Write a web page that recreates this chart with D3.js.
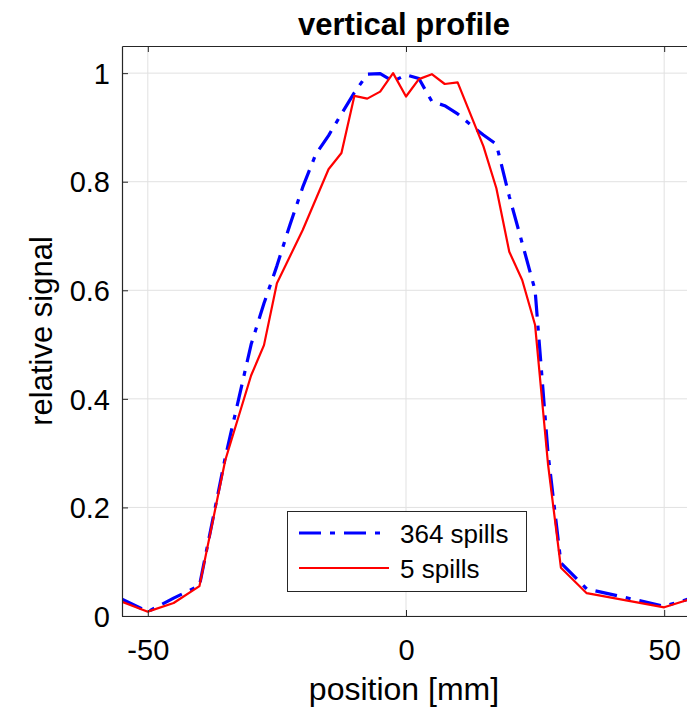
<!DOCTYPE html>
<html>
<head>
<meta charset="utf-8">
<script src="https://cdn.jsdelivr.net/npm/d3@7/dist/d3.min.js"></script>
<style>
  html, body { margin: 0; padding: 0; background: #fff; }
  svg { display: block; }
  text { font-family: "Liberation Sans", Arial, Helvetica, sans-serif; fill: #000; }
</style>
</head>
<body>
<svg id="chart" width="687" height="710"></svg>
<script>
// ---- data ----
const xSpills364 = [-55, -50, -45, -40, -35, -30, -27.5, -25, -22.5, -20, -17.5, -15, -12.5, -10, -7.5, -5, -2.5, 0, 2.5, 5, 7.5, 10, 12.5, 15, 17.5, 20, 22.5, 25, 27.5, 30, 35, 50, 55];
const ySpills364 = [0.031, 0.008, 0.033, 0.056, 0.292, 0.50, 0.576, 0.645, 0.72, 0.79, 0.85, 0.885, 0.925, 0.964, 0.998, 0.999, 0.985, 0.997, 0.99, 0.948, 0.94, 0.925, 0.905, 0.886, 0.869, 0.773, 0.687, 0.60, 0.30, 0.098, 0.05, 0.018, 0.032];

const xSpills5 = [-55, -50, -45, -40, -35, -30, -27.5, -25, -20, -15, -12.5, -10, -7.5, -5, -2.5, 0, 2.5, 5, 7.5, 10, 15, 17.5, 20, 22.5, 25, 27.5, 30, 35, 50, 55];
const ySpills5 = [0.026, 0.008, 0.024, 0.055, 0.287, 0.443, 0.499, 0.613, 0.711, 0.823, 0.853, 0.958, 0.953, 0.966, 1.0, 0.957, 0.989, 0.998, 0.980, 0.983, 0.865, 0.788, 0.671, 0.619, 0.536, 0.28, 0.089, 0.042, 0.016, 0.031];

const xTicks = [-50, 0, 50];
const xTickLabels = ["-50", "0", "50"];
const yTicks = [0, 0.2, 0.4, 0.6, 0.8, 1];
const yTickLabels = ["0", "0.2", "0.4", "0.6", "0.8", "1"];
const seriesNames = ["364 spills", "5 spills"];
const titleText = "vertical profile";
const xLabelText = "position [mm]";
const yLabelText = "relative signal";

// ---- layout ----
const svg = d3.select("#chart");
const L = 122, R = 690, T = 46, B = 616;
const x = d3.scaleLinear().domain([-55, 55]).range([L, R]);
const y = d3.scaleLinear().domain([0, 1.05]).range([B, T]);
const axisColor = "#262626";
const gridColor = "#e1e1e1";

svg.append("defs").append("clipPath").attr("id", "plotclip")
  .append("rect").attr("x", L).attr("y", T).attr("width", R - L).attr("height", B - T);

// grid
const grid = svg.append("g");
grid.selectAll("line.gx").data(xTicks).enter().append("line")
  .attr("x1", d => x(d)).attr("x2", d => x(d)).attr("y1", T).attr("y2", B)
  .attr("stroke", gridColor).attr("stroke-width", 1);
grid.selectAll("line.gy").data(yTicks).enter().append("line")
  .attr("x1", L).attr("x2", R).attr("y1", d => y(d)).attr("y2", d => y(d))
  .attr("stroke", gridColor).attr("stroke-width", 1);

// lines
const series = [
  { name: seriesNames[0], xs: xSpills364, ys: ySpills364, color: "#0000ff", width: 3.2, dash: "22,9,5,9" },
  { name: seriesNames[1], xs: xSpills5, ys: ySpills5, color: "#ff0000", width: 2.2, dash: null }
];
const lineGen = d3.line().x(d => x(d[0])).y(d => y(d[1]));
const plot = svg.append("g").attr("clip-path", "url(#plotclip)");
series.forEach(s => {
  const pts = s.xs.map((v, i) => [v, s.ys[i]]);
  plot.append("path").datum(pts)
    .attr("d", lineGen)
    .attr("fill", "none")
    .attr("stroke", s.color)
    .attr("stroke-width", s.width)
    .attr("stroke-linejoin", "round")
    .attr("stroke-dasharray", s.dash);
});

// axes (MATLAB-style box with inward ticks)
const xAxisB = d3.axisBottom(x).tickValues(xTicks).tickSizeInner(-6).tickSizeOuter(0)
  .tickFormat((d, i) => xTickLabels[i]);
const gxb = svg.append("g").attr("transform", `translate(0,${B})`).call(xAxisB);
gxb.select(".domain").attr("stroke", axisColor).attr("stroke-width", 1.2);
gxb.selectAll(".tick line").attr("stroke", axisColor);
gxb.selectAll(".tick text").attr("font-size", 29).attr("fill", "#262626")
  .attr("dy", null).attr("y", 44);

const xAxisT = d3.axisTop(x).tickValues(xTicks).tickSizeInner(-6).tickSizeOuter(0).tickFormat("");
const gxt = svg.append("g").attr("transform", `translate(0,${T})`).call(xAxisT);
gxt.select(".domain").attr("stroke", axisColor).attr("stroke-width", 1.2);
gxt.selectAll(".tick line").attr("stroke", axisColor);

const yAxisL = d3.axisLeft(y).tickValues(yTicks).tickSizeInner(-6).tickSizeOuter(0)
  .tickFormat((d, i) => yTickLabels[i]);
const gyl = svg.append("g").attr("transform", `translate(${L},0)`).call(yAxisL);
gyl.select(".domain").attr("stroke", axisColor).attr("stroke-width", 1.2);
gyl.selectAll(".tick line").attr("stroke", axisColor);
gyl.selectAll(".tick text").attr("font-size", 29).attr("fill", "#262626")
  .attr("dy", "0.35em").attr("x", -12);

// titles
svg.append("text").attr("x", (L + R) / 2 - 2).attr("y", 35)
  .attr("text-anchor", "middle").attr("font-size", 31).attr("font-weight", "bold")
  .text(titleText);
svg.append("text").attr("x", 404).attr("y", 700)
  .attr("text-anchor", "middle").attr("font-size", 32).attr("fill", "#262626")
  .text(xLabelText);
svg.append("text").attr("transform", `translate(52,${(T + B) / 2}) rotate(-90)`)
  .attr("text-anchor", "middle").attr("font-size", 31).attr("fill", "#262626")
  .text(yLabelText);

// legend
const lg = svg.append("g");
lg.append("rect").attr("x", 287.5).attr("y", 511.5).attr("width", 239).attr("height", 80)
  .attr("fill", "#fff").attr("stroke", axisColor).attr("stroke-width", 1);
const legY = [533, 568];
series.forEach((s, i) => {
  lg.append("line").attr("x1", 299).attr("x2", 389).attr("y1", legY[i]).attr("y2", legY[i])
    .attr("stroke", s.color).attr("stroke-width", s.width).attr("stroke-dasharray", s.dash);
  lg.append("text").attr("x", 400).attr("y", legY[i] + 10).attr("font-size", 26)
    .text(s.name);
});
</script>
</body>
</html>
